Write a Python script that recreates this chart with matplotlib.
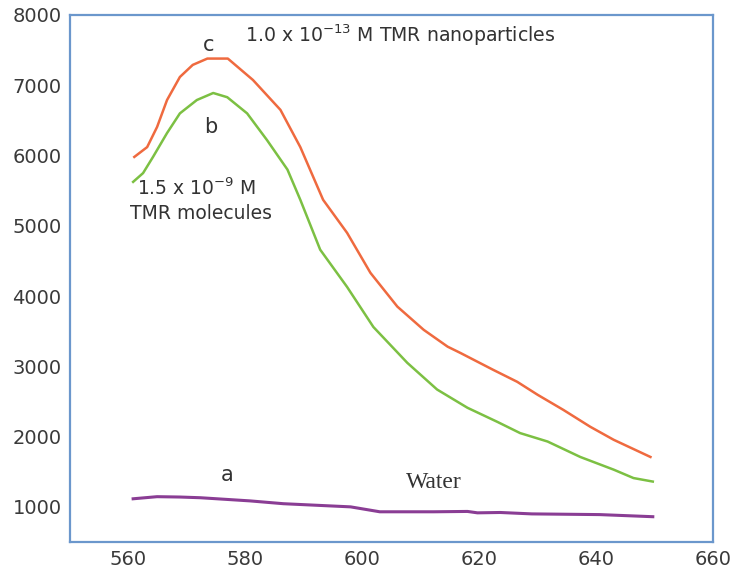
import matplotlib

matplotlib.use("Agg")
import matplotlib.pyplot as plt

plt.rcParams["font.family"] = ["DejaVu Sans"]
plt.rcParams["mathtext.default"] = "regular"

# wavelength (nm) / intensity
c_x = [561.0, 563.2, 564.9, 566.6, 568.8, 571.0, 573.5, 577.0, 581.3, 586.0, 589.4,
       593.3, 597.4, 601.4, 606.0, 610.5, 614.6, 616.8, 622.4, 626.5, 630.0, 634.4,
       639.0, 643.0, 649.3]
c_y = [5980, 6120, 6407, 6790, 7118, 7290, 7380, 7380, 7075, 6650, 6120,
       5370, 4900, 4330, 3850, 3520, 3280, 3190, 2950, 2780, 2595, 2380,
       2140, 1955, 1710]

b_x = [560.8, 562.5, 564.2, 566.6, 568.8, 571.7, 574.5, 576.9, 580.3, 583.7, 587.2,
       589.4, 592.8, 597.4, 601.9, 607.7, 612.8, 618.0, 623.1, 627.0, 631.7, 637.3,
       643.0, 646.4, 649.7]
b_y = [5625, 5750, 5980, 6320, 6600, 6790, 6890, 6830, 6600, 6220, 5800,
       5370, 4660, 4130, 3560, 3050, 2670, 2410, 2210, 2050, 1930, 1710,
       1530, 1410, 1360]

a_x = [560.8, 564.9, 568.8, 572.3, 580.8, 586.5, 598.0, 603.0, 612.2, 618.0, 619.7,
       623.6, 629.0, 640.6, 649.7]
a_y = [1115, 1145, 1140, 1130, 1085, 1045, 1000, 930, 930, 935, 915,
       920, 900, 890, 860]

x_ticks = [560, 580, 600, 620, 640, 660]
y_ticks = [1000, 2000, 3000, 4000, 5000, 6000, 7000, 8000]

SPINE = "#6b97cc"
INK = "#333333"

fig = plt.figure(figsize=(7.32, 5.71), dpi=100)
ax = fig.add_axes([70 / 732, 1 - 542 / 571, 643 / 732, 527 / 571])

ax.plot(c_x, c_y, color="#ef6a3f", lw=1.8)
ax.plot(b_x, b_y, color="#7cc043", lw=1.8)
ax.plot(a_x, a_y, color="#8a3d94", lw=2.2)

ax.set_xlim(550, 660)
ax.set_ylim(500, 8000)
ax.set_xticks(x_ticks)
ax.set_yticks(y_ticks)
ax.tick_params(length=0, labelsize=14, labelcolor="#3a3a3a", pad=6)
for spine in ax.spines.values():
    spine.set_color(SPINE)
    spine.set_linewidth(1.6)

ax.text(573.8, 7570, "c", fontsize=15, color=INK, ha="center", va="center")
ax.text(580.0, 7715, "1.0 x 10$^{-13}$ M TMR nanoparticles", fontsize=13.6,
        color=INK, ha="left", va="center")
ax.text(574.0, 6410, "b", fontsize=15, color=INK, ha="center", va="center")
ax.text(561.5, 5530, "1.5 x 10$^{-9}$ M", fontsize=13.5, color=INK,
        ha="left", va="center")
ax.text(560.3, 5170, "TMR molecules", fontsize=13.5, color=INK,
        ha="left", va="center")
ax.text(576.9, 1457, "a", fontsize=15, color=INK, ha="center", va="center")
ax.text(612.3, 1343, "Water", fontsize=17, color=INK, ha="center", va="center",
        family=["Liberation Serif", "DejaVu Serif"])

fig.savefig("out.png", dpi=100)
